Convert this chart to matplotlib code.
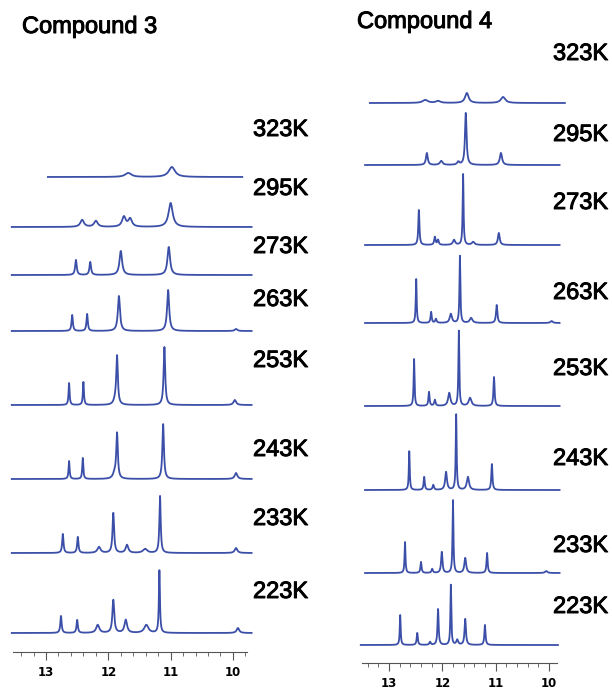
import numpy as np
import matplotlib.pyplot as plt
import matplotlib.patheffects as pe
from matplotlib.ticker import MultipleLocator

temps = ['323K', '295K', '273K', '263K', '253K', '243K', '233K', '223K']

# Compound 3: peak shifts (ppm), heights (px) and widths (ppm) per temperature
c3_shift = [
    [11.68, 10.98],
    [12.42, 12.20, 11.75, 11.65, 11.00],
    [12.52, 12.29, 11.80, 11.03],
    [12.58, 12.34, 11.83, 11.04, 9.95],
    [12.63, 12.40, 11.89, 11.86, 11.10, 9.97],
    [12.63, 12.41, 11.90, 11.86, 11.12, 9.95],
    [12.73, 12.49, 12.15, 11.92, 11.70, 11.41, 11.17, 9.95],
    [12.76, 12.50, 12.17, 11.92, 11.72, 11.39, 11.18, 9.92],
]
c3_height = [
    [4, 10],
    [7, 6, 10, 8, 24],
    [15, 13, 24, 28],
    [16, 17, 35, 41, 2],
    [22, 23, 4, 48, 58, 5],
    [18, 21, 5, 45, 55, 6],
    [19, 16, 6, 40, 8, 4, 57, 5],
    [17, 13, 8, 33, 13, 8, 63, 5],
]
c3_width = [
    [0.12, 0.12],
    [0.07, 0.07, 0.07, 0.07, 0.08],
    [0.03, 0.03, 0.05, 0.05],
    [0.025, 0.025, 0.04, 0.04, 0.05],
    [0.02, 0.02, 0.06, 0.03, 0.03, 0.05],
    [0.02, 0.02, 0.06, 0.03, 0.03, 0.05],
    [0.025, 0.025, 0.06, 0.03, 0.05, 0.08, 0.025, 0.05],
    [0.025, 0.025, 0.06, 0.035, 0.05, 0.08, 0.02, 0.05],
]
c3_range = [(12.97, 9.85)] + [(13.55, 9.70)] * 7

# Compound 4
c4_shift = [
    [12.32, 12.08, 11.54, 10.86],
    [12.29, 12.02, 11.70, 11.56, 10.90],
    [12.44, 12.14, 12.08, 11.78, 11.61, 11.42, 10.94],
    [12.49, 12.21, 12.12, 11.84, 11.67, 11.46, 10.98, 9.95],
    [12.53, 12.25, 12.14, 11.87, 11.69, 11.48, 11.03],
    [12.62, 12.34, 12.17, 11.93, 11.74, 11.52, 11.07],
    [12.70, 12.40, 12.19, 12.01, 11.80, 11.57, 11.16, 10.05],
    [12.79, 12.47, 12.23, 12.08, 11.84, 11.72, 11.57, 11.20],
]
c4_height = [
    [3, 2, 10, 6],
    [12, 4, 3, 52, 12],
    [35, 8, 5, 5, 71, 3, 12],
    [44, 11, 4, 9, 67, 5, 18, 2],
    [47, 14, 6, 13, 75, 8, 29],
    [39, 13, 5, 18, 76, 13, 26],
    [31, 11, 4, 21, 73, 15, 20, 2],
    [30, 12, 3, 36, 60, 5, 26, 20],
]
c4_width = [
    [0.12, 0.1, 0.08, 0.1],
    [0.04, 0.06, 0.05, 0.035, 0.05],
    [0.025, 0.03, 0.03, 0.05, 0.02, 0.06, 0.04],
    [0.02, 0.025, 0.03, 0.05, 0.02, 0.06, 0.03, 0.05],
    [0.02, 0.025, 0.03, 0.05, 0.02, 0.06, 0.025],
    [0.02, 0.025, 0.03, 0.04, 0.02, 0.05, 0.025],
    [0.02, 0.025, 0.03, 0.03, 0.02, 0.04, 0.025, 0.05],
    [0.02, 0.025, 0.03, 0.025, 0.02, 0.04, 0.03, 0.025],
]
c4_range = [(13.36, 9.70)] + [(13.45, 9.80)] * 6 + [(13.53, 9.83)]

W, H = 612, 690
LINE = '#3b4fa8'
heavy = [pe.withStroke(linewidth=0.7, foreground='black')]


def spectrum(x, shifts, heights, widths):
    y = np.zeros_like(x)
    for s, h, w in zip(shifts, heights, widths):
        g = (w / 2) ** 2
        y += h * g / ((x - s) ** 2 + g)
    return y


def panel(left_px, right_px, axis_px, xlim, offsets, shifts, heights, widths, ranges,
          title, title_xy, label_x, label_y):
    ax = fig.add_axes([left_px / W, (H - axis_px) / H, (right_px - left_px) / W, axis_px / H])
    ax.set_xlim(*xlim)
    ax.set_ylim(0, axis_px)
    for off, s, h, w, r in zip(offsets, shifts, heights, widths, ranges):
        x = np.linspace(r[0], r[1], 2000)
        ax.plot(x, off + spectrum(x, s, h, w), color=LINE, lw=1.3, clip_on=False)
    for sp in ['top', 'left', 'right']:
        ax.spines[sp].set_visible(False)
    ax.spines['bottom'].set_color('#555555')
    ax.set_yticks([])
    ax.xaxis.set_major_locator(MultipleLocator(1))
    ax.xaxis.set_minor_locator(MultipleLocator(0.2))
    ax.tick_params(axis='x', which='major', length=6, color='#555555', pad=4,
                   labelsize=8.5)
    ax.tick_params(axis='x', which='minor', length=3, color='#555555')
    for t in ax.get_xticklabels():
        t.set_fontweight('bold')
    ax.set_facecolor('none')
    fig.text(title_xy[0] / W, 1 - title_xy[1] / H, title, fontsize=17,
             family='Liberation Sans', va='center', ha='left', path_effects=heavy)
    for t, yy in zip(temps, label_y):
        fig.text(label_x / W, 1 - yy / H, t, fontsize=17, family='Liberation Sans',
                 va='center', ha='left', path_effects=heavy)
    return ax


fig = plt.figure(figsize=(W / 100, H / 100), dpi=100)

panel(13, 247, 652, (13.53, 9.774), [475, 425, 377, 321, 247, 173, 99, 19],
      c3_shift, c3_height, c3_width, c3_range,
      'Compound 3', (22, 27), 253, [130, 189, 247, 300, 361, 450, 519, 592])
panel(362, 557, 663, (13.507, 9.848), [560, 498, 418, 340, 257, 173, 90, 18],
      c4_shift, c4_height, c4_width, c4_range,
      'Compound 4', (357, 22), 553, [54, 135, 203, 293, 369, 459, 546, 607])

fig.savefig('out.png', dpi=100)
